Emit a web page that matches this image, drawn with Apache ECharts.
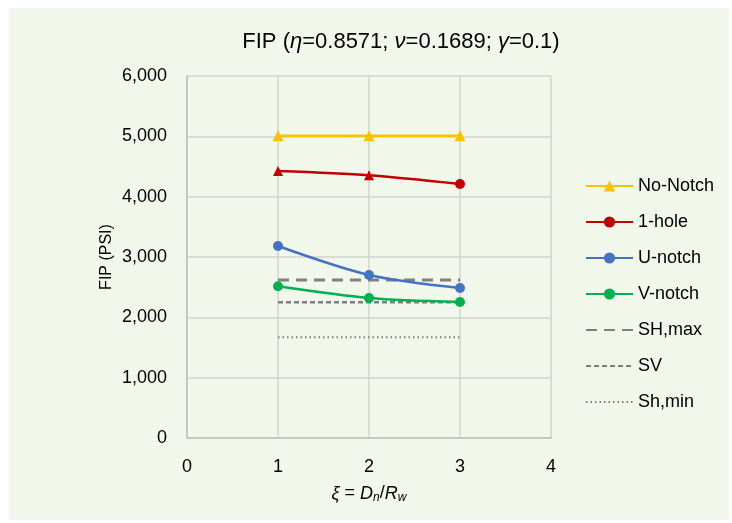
<!DOCTYPE html>
<html>
<head>
<meta charset="utf-8">
<script src="https://cdn.jsdelivr.net/npm/echarts@6/dist/echarts.min.js"></script>
<style>
html,body{margin:0;padding:0;background:#ffffff;}
#frame{position:absolute;left:9px;top:8px;width:720px;height:512px;background:#F2F7EC;}
#chart{position:absolute;left:0;top:0;width:732px;height:523px;}
</style>
</head>
<body>
<div id="frame"></div>
<div id="chart"></div>
<script>
const xValues = [1, 2, 3];
const noNotch = [5010, 5010, 5010];
const oneHole = [4425, 4355, 4210];
const uNotch = [3182, 2702, 2486];
const vNotch = [2514, 2320, 2254];
const shMax = 2620;
const sv = 2250;
const shMin = 1670;
const refRange = [1, 3];
const yTicks = [0, 1000, 2000, 3000, 4000, 5000, 6000];
const xTicks = [0, 1, 2, 3, 4];
const legendNames = ['No-Notch', '1-hole', 'U-notch', 'V-notch', 'SH,max', 'SV', 'Sh,min'];

const font = '"Liberation Sans", "DejaVu Sans", sans-serif';
const chart = echarts.init(document.getElementById('chart'), null, {renderer: 'canvas'});

function pts(vals) { return xValues.map((x, i) => [x, vals[i]]); }
function flat(v) { return refRange.map(x => [x, v]); }

const oneHoleData = pts(oneHole).map((p, i) => ({
  value: p,
  symbol: i < 2 ? 'triangle' : 'circle'
}));

const legendData = legendNames.map((n, i) => i < 4 ? {name: n} : {name: n, itemStyle: {opacity: 0}});

const option = {
  backgroundColor: 'transparent',
  animation: false,
  title: {
    text: '{n|FIP (}{i|η}{n|=0.8571; }{i|ν}{n|=0.1689; }{i|γ}{n|=0.1)}',
    left: 396, top: 26, textAlign: 'center',
    textStyle: {
      fontWeight: 'normal',
      rich: {
        n: {fontFamily: font, fontSize: 22, color: '#000', fontWeight: 'normal'},
        i: {fontFamily: font, fontSize: 22, color: '#000', fontStyle: 'italic', fontWeight: 'normal'}
      }
    }
  },
  grid: {left: 187, right: 181, top: 76, bottom: 85, containLabel: false},
  legend: {
    orient: 'vertical', left: 585, top: 177, padding: 0,
    itemWidth: 47, itemHeight: 14, itemGap: 18,
    textStyle: {fontFamily: font, fontSize: 18, color: '#000'},
    data: legendData
  },
  xAxis: {
    type: 'value', min: 0, max: 4, interval: 1,
    name: '{i|ξ}{n| = }{i|D}{s|n}{n|/}{i|R}{s|w}',
    nameLocation: 'middle', nameGap: 45, nameMoveOverlap: false,
    nameTextStyle: {
      rich: {
        n: {fontFamily: font, fontSize: 18, color: '#000'},
        i: {fontFamily: font, fontSize: 18, color: '#000', fontStyle: 'italic'},
        s: {fontFamily: font, fontSize: 12, color: '#000', fontStyle: 'italic', padding: [9,0,0,0]}
      }
    },
    axisLine: {show: true, lineStyle: {color: '#BFBFBF', width: 1.5}},
    axisTick: {show: false},
    axisLabel: {fontFamily: font, fontSize: 18, color: '#000', margin: 20,
      formatter: v => xTicks.includes(v) ? String(v) : ''},
    splitLine: {show: true, lineStyle: {color: '#D0D4CC', width: 1.5}}
  },
  yAxis: {
    type: 'value', min: 0, max: 6000, interval: 1000,
    name: 'FIP (PSI)', nameLocation: 'middle', nameGap: 72, nameMoveOverlap: false,
    nameTextStyle: {fontFamily: font, fontSize: 16, color: '#000'},
    axisLine: {show: true, lineStyle: {color: '#BFBFBF', width: 1.5}},
    axisTick: {show: false},
    axisLabel: {fontFamily: font, fontSize: 18, color: '#000', margin: 20,
      formatter: v => yTicks.includes(v) ? v.toLocaleString('en-US') : ''},
    splitLine: {show: true, lineStyle: {color: '#D0D4CC', width: 1.5}}
  },
  series: [
    {name: 'No-Notch', type: 'line', data: pts(noNotch), symbol: 'triangle', symbolSize: 11,
      color: '#FFC000', lineStyle: {width: 2.5, color: '#FFC000'}, itemStyle: {color: '#FFC000'}, z: 5},
    {name: '1-hole', type: 'line', data: oneHoleData, symbol: 'circle', symbolSize: 10, smooth: 0.3,
      color: '#C00000', lineStyle: {width: 2.5, color: '#C00000'}, itemStyle: {color: '#C00000'}, z: 5},
    {name: 'U-notch', type: 'line', data: pts(uNotch), symbol: 'circle', symbolSize: 10, smooth: 0.3,
      color: '#4472C4', lineStyle: {width: 2.5, color: '#4472C4'}, itemStyle: {color: '#4472C4'}, z: 5},
    {name: 'V-notch', type: 'line', data: pts(vNotch), symbol: 'circle', symbolSize: 10, smooth: 0.3,
      color: '#00B050', lineStyle: {width: 2.5, color: '#00B050'}, itemStyle: {color: '#00B050'}, z: 5},
    {name: 'SH,max', type: 'line', data: flat(shMax), symbol: 'none', color: '#7F7F7F',
      lineStyle: {width: 3, color: '#7F7F7F', type: [11, 7]}, z: 3},
    {name: 'SV', type: 'line', data: flat(sv), symbol: 'none', color: '#7F7F7F',
      lineStyle: {width: 2.5, color: '#7F7F7F', type: [5, 3]}, z: 3},
    {name: 'Sh,min', type: 'line', data: flat(shMin), symbol: 'none', color: '#7F7F7F',
      lineStyle: {width: 2, color: '#7F7F7F', type: [1.5, 3]}, z: 3}
  ]
};
chart.setOption(option);
</script>
</body>
</html>
